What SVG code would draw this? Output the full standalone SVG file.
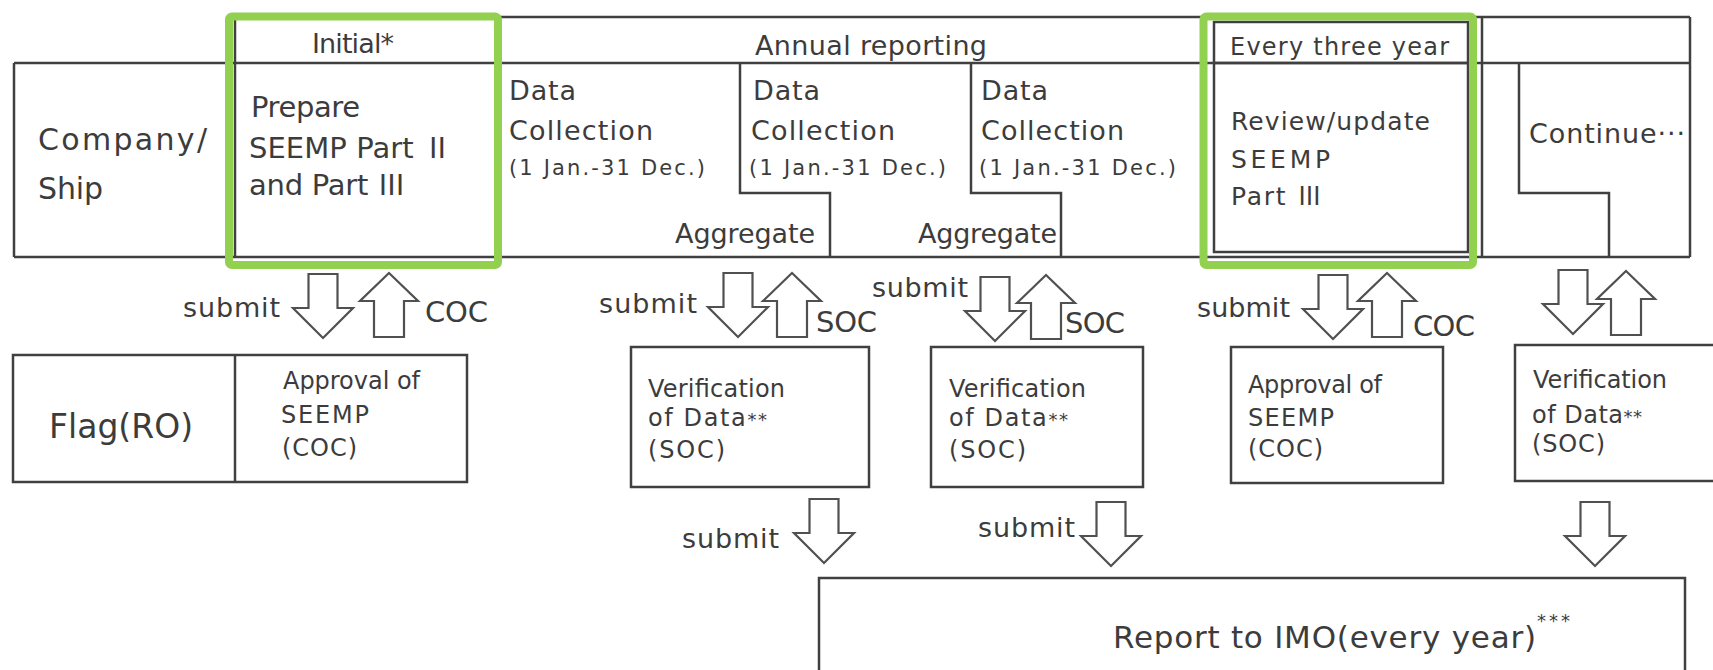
<svg xmlns="http://www.w3.org/2000/svg" width="1713" height="670" viewBox="0 0 1713 670">
<style>
  .ln{fill:none;stroke:#404040;stroke-width:2.5}
  .bx{fill:#fff;stroke:#404040;stroke-width:2.5}
  .gr{fill:none;stroke:#92D050;stroke-width:8}
  .ar{fill:#fff;stroke:#505050;stroke-width:2.2;stroke-linejoin:miter}
  text{font-family:"DejaVu Sans","Liberation Sans","Noto Sans CJK JP",sans-serif;fill:#3c3c3c}
  .rn{font-family:"Noto Sans CJK JP","DejaVu Sans",sans-serif}
  .f30{font-size:30px}.f29{font-size:29px}.f27{font-size:27px}.f25{font-size:25px}.f24{font-size:24px}.f21{font-size:21px}
</style>
<defs>
  <path id="dn" d="M-14.5,-64 H14.5 V-30 H30 L0,0 L-30,-30 H-14.5 Z"/>
  <path id="up" d="M0,0 L29,28 H15 V64 H-15 V28 H-29 Z"/>
</defs>
<rect width="1713" height="670" fill="#fff"/>

<g id="grid">
  <path class="ln" d="M229,17 H1690 M14,63 H1690 M14,257 H1690"/>
  <path class="ln" d="M14,63 V257 M235,17 V257 M498,17 V257 M1203,17 V257 M1482,17 V257 M1690,17 V257"/>
  <path class="ln" d="M740,63 V193 H830 V257"/>
  <path class="ln" d="M971,63 V193 H1061 V257"/>
  <path class="ln" d="M1519,63 V193 H1609 V257"/>
  <rect class="ln" x="1214" y="22" width="254" height="230"/>
  <path class="ln" d="M1214,63 H1468"/>
</g>

<g id="hdr-initial"><text class="f27" x="312" y="53" textLength="82">Initial*</text></g>
<g id="hdr-annual"><text class="f27" x="755" y="55" textLength="232">Annual reporting</text></g>
<g id="hdr-three"><text class="f24" x="1230" y="55" textLength="219">Every three year</text></g>

<g id="company">
  <text class="f30" x="38" y="150" textLength="169">Company/</text>
  <text class="f30" x="38" y="199" textLength="65">Ship</text>
</g>
<g id="prepare">
  <text class="f29" x="251" y="117" textLength="109">Prepare</text>
  <text class="f29" x="249" y="158" textLength="203">SEEMP Part <tspan class="rn">Ⅱ</tspan></text>
  <text class="f29" x="249" y="195" textLength="157">and Part <tspan class="rn">Ⅲ</tspan></text>
</g>
<g id="dc1">
  <text class="f27" x="509" y="100" textLength="67">Data</text>
  <text class="f27" x="509" y="140" textLength="144">Collection</text>
  <text class="f21" x="509" y="175" textLength="196">(1 Jan.-31 Dec.)</text>
  <text class="f27" x="675" y="243" textLength="140">Aggregate</text>
</g>
<g id="dc2">
  <text class="f27" x="753" y="100" textLength="67">Data</text>
  <text class="f27" x="751" y="140" textLength="144">Collection</text>
  <text class="f21" x="749" y="175" textLength="197">(1 Jan.-31 Dec.)</text>
  <text class="f27" x="918" y="243" textLength="139">Aggregate</text>
</g>
<g id="dc3">
  <text class="f27" x="981" y="100" textLength="67">Data</text>
  <text class="f27" x="981" y="140" textLength="143">Collection</text>
  <text class="f21" x="979" y="175" textLength="197">(1 Jan.-31 Dec.)</text>
</g>
<g id="review">
  <text class="f25" x="1231" y="130" textLength="199">Review/update</text>
  <text class="f25" x="1231" y="168" textLength="99">SEEMP</text>
  <text class="f25" x="1231" y="205" textLength="91">Part <tspan class="rn">Ⅲ</tspan></text>
</g>
<g id="continue"><text class="f27" x="1529" y="143" textLength="156">Continue···</text></g>

<g id="highlights">
  <rect class="gr" x="229" y="16.5" width="269" height="248.5" rx="3"/>
  <rect class="gr" x="1203.5" y="16.5" width="269.5" height="248.5" rx="3"/>
</g>

<g id="flag">
  <rect class="bx" x="13" y="355" width="454" height="127"/>
  <path class="ln" d="M235,355 V482"/>
  <text x="49" y="438" font-size="33" textLength="144">Flag(RO)</text>
  <text class="f24" x="283" y="389" textLength="137">Approval of</text>
  <text class="f24" x="281" y="423" textLength="88">SEEMP</text>
  <text class="f24" x="282" y="456" textLength="75">(COC)</text>
</g>
<g id="verif1">
  <rect class="bx" x="631" y="347" width="238" height="140"/>
  <text class="f24" x="648" y="397" textLength="137">Verification</text>
  <text class="f24" x="648" y="426" textLength="119">of Data<tspan font-size="18">**</tspan></text>
  <text class="f24" x="648" y="458" textLength="77">(SOC)</text>
</g>
<g id="verif2">
  <rect class="bx" x="931" y="347" width="212" height="140"/>
  <text class="f24" x="949" y="397" textLength="137">Verification</text>
  <text class="f24" x="949" y="426" textLength="119">of Data<tspan font-size="18">**</tspan></text>
  <text class="f24" x="949" y="458" textLength="77">(SOC)</text>
</g>
<g id="approval2">
  <rect class="bx" x="1231" y="347" width="212" height="136"/>
  <text class="f24" x="1248" y="393" textLength="134">Approval of</text>
  <text class="f24" x="1248" y="426" textLength="86">SEEMP</text>
  <text class="f24" x="1248" y="457" textLength="75">(COC)</text>
</g>
<g id="verif3">
  <rect class="bx" x="1515" y="345" width="210" height="136"/>
  <text class="f24" x="1533" y="388" textLength="134">Verification</text>
  <text class="f24" x="1532" y="423" textLength="110">of Data<tspan font-size="18">**</tspan></text>
  <text class="f24" x="1532" y="452" textLength="73">(SOC)</text>
</g>
<g id="imo">
  <rect class="bx" x="819" y="578" width="866" height="130"/>
  <text x="1113" y="648" font-size="31" textLength="423">Report to IMO(every year)</text>
  <text x="1537" y="627" font-size="18" textLength="33">***</text>
</g>

<g id="connectors">
  <use href="#dn" class="ar" x="323" y="338"/>
  <use href="#up" class="ar" x="389" y="273"/>
  <use href="#dn" class="ar" x="738" y="337"/>
  <use href="#up" class="ar" x="792" y="273"/>
  <use href="#dn" class="ar" x="995" y="341"/>
  <use href="#up" class="ar" x="1046" y="275"/>
  <use href="#dn" class="ar" x="1333" y="339"/>
  <use href="#up" class="ar" x="1387" y="273"/>
  <use href="#dn" class="ar" x="1573" y="334"/>
  <use href="#up" class="ar" x="1626" y="271"/>
  <use href="#dn" class="ar" x="824" y="563"/>
  <use href="#dn" class="ar" x="1111" y="566"/>
  <use href="#dn" class="ar" x="1595" y="566"/>
  <g id="labels">
    <text class="f27" x="183" y="317" textLength="97">submit</text>
    <text class="f29" x="425" y="322" textLength="63">COC</text>
    <text class="f27" x="599" y="313" textLength="98">submit</text>
    <text class="f29" x="816" y="332" textLength="61">SOC</text>
    <text class="f27" x="872" y="297" textLength="96">submit</text>
    <text class="f29" x="1065" y="333" textLength="60">SOC</text>
    <text class="f27" x="1197" y="317" textLength="93">submit</text>
    <text class="f29" x="1413" y="336" textLength="62">COC</text>
    <text class="f27" x="682" y="548" textLength="97">submit</text>
    <text class="f27" x="978" y="537" textLength="97">submit</text>
  </g>
</g>
</svg>
